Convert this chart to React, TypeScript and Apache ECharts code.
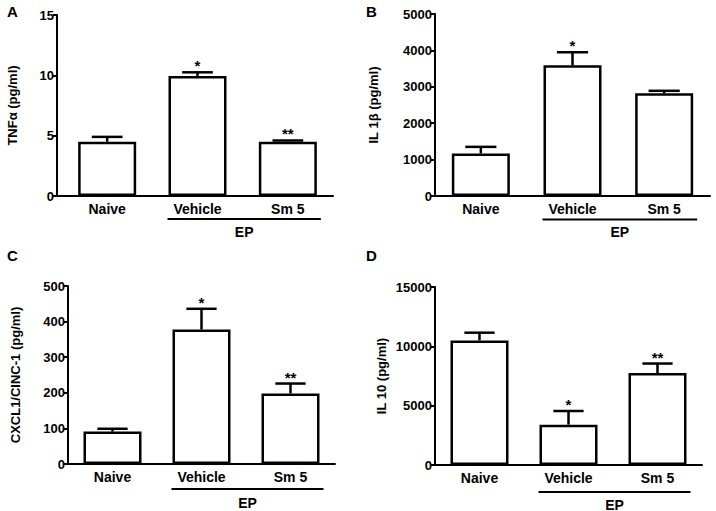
import React, { useEffect, useRef } from "react";
import * as echarts from "echarts";

const categories = ["Naive", "Vehicle", "Sm 5"];

const tnfMean = [4.5, 9.95, 4.5];
const tnfSem = [0.4, 0.3, 0.1];
const tnfSig = ["", "*", "**"];

const il1bMean = [1170, 3590, 2820];
const il1bSem = [180, 360, 70];
const il1bSig = ["", "*", ""];

const cxclMean = [91, 378, 198];
const cxclSem = [8, 58, 28];
const cxclSig = ["", "*", "**"];

const il10Mean = [10500, 3400, 7750];
const il10Sem = [650, 1150, 800];
const il10Sig = ["", "*", "**"];

const panelLetters = ["A", "B", "C", "D"];
const axisNames = ["TNFα (pg/ml)", "IL 1β (pg/ml)", "CXCL1/CINC-1 (pg/ml)", "IL 10 (pg/ml)"];
const axisMax = [15, 5000, 500, 15000];
const axisInterval = [5, 1000, 100, 5000];
const groupLabel = "EP";

const means = [tnfMean, il1bMean, cxclMean, il10Mean];
const sems = [tnfSem, il1bSem, cxclSem, il10Sem];
const sigs = [tnfSig, il1bSig, cxclSig, il10Sig];

const layouts = [
  { left: 62, top: 15, right: 333, bottom: 196, axisOffset: 5, nameGap: 38, letterX: 7, letterY: 4, epLine: 23, epText: 36 },
  { left: 435, top: 14, right: 710, bottom: 196, axisOffset: 0, nameGap: 55, letterX: 366, letterY: 4, epLine: 23.5, epText: 35.5 },
  { left: 68, top: 286, right: 335, bottom: 464, axisOffset: 0, nameGap: 46, letterX: 7, letterY: 248, epLine: 25, epText: 39 },
  { left: 435, top: 287, right: 702, bottom: 465, axisOffset: 0, nameGap: 47, letterX: 366, letterY: 248, epLine: 27, epText: 39.5 },
];

const FONT = "'Liberation Sans', Arial, sans-serif";

export default function App() {
  const ref = useRef<HTMLDivElement>(null);
  useEffect(() => {
    if (!ref.current) return;
    const chart = echarts.init(ref.current, null, { renderer: "svg" });
    const grid: any[] = [];
    const xAxis: any[] = [];
    const yAxis: any[] = [];
    const series: any[] = [];
    const graphic: any[] = [];
    layouts.forEach((L, i) => {
      grid.push({ left: L.left, top: L.top, width: L.right - L.left, height: L.bottom - L.top });
      xAxis.push({
        type: "category",
        gridIndex: i,
        data: categories,
        axisLine: { lineStyle: { color: "#000", width: 2 } },
        axisTick: { alignWithLabel: true, length: 4, lineStyle: { color: "#000", width: 2 } },
        axisLabel: { color: "#000", fontFamily: FONT, fontWeight: "bold", fontSize: 14, margin: 6 },
        splitLine: { show: false },
      });
      yAxis.push({
        type: "value",
        gridIndex: i,
        min: 0,
        max: axisMax[i],
        interval: axisInterval[i],
        offset: L.axisOffset,
        name: axisNames[i],
        nameLocation: "middle",
        nameGap: L.nameGap,
        nameTextStyle: { color: "#000", fontFamily: FONT, fontWeight: "bold", fontSize: 13 },
        axisLine: { show: true, lineStyle: { color: "#000", width: 2 } },
        axisTick: { show: true, length: 4, lineStyle: { color: "#000", width: 2 } },
        axisLabel: {
          color: "#000",
          fontFamily: FONT,
          fontWeight: "bold",
          fontSize: 13,
          margin: 3,
          formatter: (v: number) => String(v),
        },
        splitLine: { show: false },
      });
      series.push({
        type: "bar",
        xAxisIndex: i,
        yAxisIndex: i,
        data: means[i],
        barWidth: 58,
        itemStyle: { color: "#fff", borderColor: "#000", borderWidth: 2.5 },
        z: 2,
      });
      series.push({
        type: "custom",
        xAxisIndex: i,
        yAxisIndex: i,
        z: 3,
        clip: false,
        data: means[i].map((m, k) => [k, m, m + sems[i][k]]),
        renderItem: (params: any, api: any) => {
          const k = api.value(0);
          const p0 = api.coord([k, api.value(1)]);
          const p1 = api.coord([k, api.value(2)]);
          const bw = api.size([1, 0])[0];
          const half = bw * 0.17;
          const s = sigs[i][params.dataIndex];
          const children: any[] = [
            { type: "line", shape: { x1: p0[0], y1: p0[1], x2: p1[0], y2: p1[1] }, style: { stroke: "#000", lineWidth: 2.5 } },
            { type: "line", shape: { x1: p1[0] - half, y1: p1[1], x2: p1[0] + half, y2: p1[1] }, style: { stroke: "#000", lineWidth: 2.5 } },
          ];
          if (s) {
            children.push({
              type: "text",
              x: p1[0],
              y: p1[1] + 1,
              style: { text: s, fill: "#000", font: `bold 15px ${FONT}`, align: "center", verticalAlign: "bottom" },
            });
          }
          return { type: "group", children };
        },
      });
      series.push({
        type: "custom",
        xAxisIndex: i,
        yAxisIndex: i,
        z: 3,
        clip: false,
        silent: true,
        data: [[1, 2]],
        renderItem: (params: any, api: any) => {
          const a = api.coord([api.value(0), 0]);
          const b = api.coord([api.value(1), 0]);
          const x1 = a[0] - 30;
          const x2 = b[0] + 33;
          const children: any[] = [
            { type: "line", shape: { x1, y1: a[1] + L.epLine, x2, y2: a[1] + L.epLine }, style: { stroke: "#000", lineWidth: 2 } },
            {
              type: "text",
              x: (x1 + x2) / 2,
              y: a[1] + L.epText,
              style: { text: groupLabel, fill: "#000", font: `bold 14px ${FONT}`, align: "center", verticalAlign: "middle" },
            },
          ];
          if (L.axisOffset > 0) {
            children.push({
              type: "line",
              shape: { x1: L.left - L.axisOffset - 1, y1: a[1], x2: L.left, y2: a[1] },
              style: { stroke: "#000", lineWidth: 2 },
            });
          }
          return { type: "group", children };
        },
      });
      graphic.push({
        type: "text",
        left: L.letterX,
        top: L.letterY,
        style: { text: panelLetters[i], fill: "#000", font: `bold 15px ${FONT}` },
      });
    });
    chart.setOption({
      animation: false,
      backgroundColor: "#fff",
      grid,
      xAxis,
      yAxis,
      series,
      graphic,
    });
    return () => chart.dispose();
  }, []);
  return (
    <div
      ref={ref}
      style={{ position: "fixed", left: 0, top: 0, width: 716, height: 511, background: "#fff" }}
    />
  );
}
